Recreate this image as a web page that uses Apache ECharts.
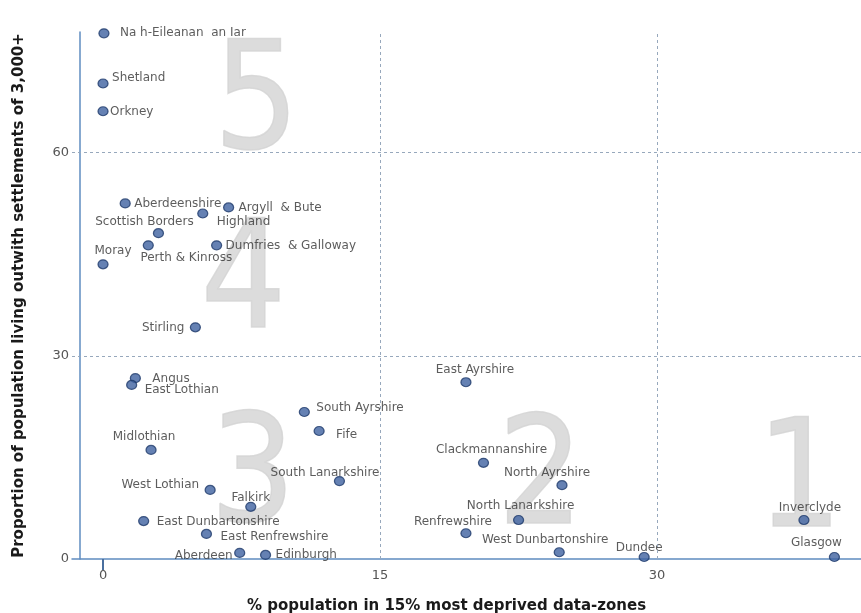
<!DOCTYPE html>
<html>
<head>
<meta charset="utf-8">
<script src="https://cdn.jsdelivr.net/npm/echarts@6/dist/echarts.min.js"></script>
<style>
html,body{margin:0;padding:0;background:#fff;}
#c{width:861px;height:613px;}
</style>
</head>
<body>
<div id="c"></div>
<script>
// ---- data ----
const councils = ["Na h-Eileanan  an Iar","Shetland","Orkney","Aberdeenshire","Highland","Argyll  & Bute","Scottish Borders","Perth & Kinross","Dumfries  & Galloway","Moray","Stirling","Angus","East Lothian","South Ayrshire","Fife","Midlothian","South Lanarkshire","West Lothian","Falkirk","East Dunbartonshire","East Renfrewshire","Aberdeen","Edinburgh","East Ayrshire","Clackmannanshire","North Ayrshire","North Lanarkshire","Renfrewshire","West Dunbartonshire","Dundee","Inverclyde","Glasgow"];
const deprived = [0.05,0,0,1.2,5.4,6.8,3.0,2.45,6.15,0,5.0,1.75,1.55,10.9,11.7,2.6,12.8,5.8,8.0,2.2,5.6,7.4,8.8,19.65,20.6,24.85,22.5,19.65,24.7,29.3,37.95,39.6];
const rural = [77.6,70.2,66.1,52.5,51.0,51.9,48.1,46.3,46.3,43.5,34.2,26.7,25.7,21.7,18.9,16.1,11.5,10.2,7.7,5.6,3.7,0.9,0.6,26.1,14.2,10.9,5.75,3.8,1.0,0.3,5.75,0.3];
const xTicks = [0,15,30];
const yTicks = [0,30,60];
const xGridLines = [15,30];
const yGridLines = [30,60];
const zoneNames = ["5","4","3","2","1"];
const zoneX = [8.3,7.6,8.1,23.7,37.7];
const zoneY = [66.4,40.0,11.3,11.0,10.6];

// ---- label styling (align, dx, dy) per council ----
const labelStyle = {
  "Na h-Eileanan  an Iar":["left",16,0],
  "Shetland":["left",9,-6],
  "Orkney":["left",7,1],
  "Aberdeenshire":["left",9,0],
  "Highland":["left",14,8],
  "Argyll  & Bute":["left",10,0],
  "Scottish Borders":["center",-14,-11],
  "Perth & Kinross":["center",38,13],
  "Dumfries  & Galloway":["left",9,1],
  "Moray":["center",10,-13],
  "Stirling":["right",-11,1],
  "Angus":["left",17,1],
  "East Lothian":["left",13,5],
  "South Ayrshire":["left",12,-4],
  "Fife":["left",17,4],
  "Midlothian":["center",-7,-13],
  "South Lanarkshire":["right",40,-8],
  "West Lothian":["right",-11,-5],
  "Falkirk":["center",0,-9],
  "East Dunbartonshire":["left",13,1],
  "East Renfrewshire":["left",14,3],
  "Aberdeen":["right",-7,3],
  "Edinburgh":["left",10,0],
  "East Ayrshire":["center",9,-12],
  "Clackmannanshire":["center",8,-13],
  "North Ayrshire":["center",-15,-12],
  "North Lanarkshire":["center",2,-14],
  "Renfrewshire":["center",-13,-11],
  "West Dunbartonshire":["center",-14,-12],
  "Dundee":["center",-5,-9],
  "Inverclyde":["center",6,-12],
  "Glasgow":["center",-18,-14]
};

const FONT = "DejaVu Sans";
const BIGFONT = "'Liberation Sans Narrow', 'DejaVu Sans Condensed', 'Liberation Sans', sans-serif";
const points = councils.map((n,i)=>{
  const s = labelStyle[n];
  return {
    name:n, value:[deprived[i], rural[i]],
    label:{show:true, formatter:n, position:'inside', align:s[0], verticalAlign:'middle', offset:[s[1], s[2]]}
  };
});

const chart = echarts.init(document.getElementById('c'), null, {renderer:'canvas'});
chart.setOption({
  animation:false,
  backgroundColor:'#ffffff',
  grid:{left:72, right:0, top:32, bottom:54, containLabel:false, outerBoundsMode:'none'},
  xAxis:{
    type:'value', min:-1.68, max:41.04,
    name:'% population in 15% most deprived data-zones',
    nameLocation:'middle', nameGap:40,
    nameTextStyle:{fontFamily:FONT, fontSize:15, fontWeight:'bold', color:'#1a1a1a', padding:[0,40,0,0]},
    axisLine:{show:true, onZero:false, lineStyle:{color:'#5f8cc0', width:1.5}},
    axisTick:{show:true, customValues:[0], length:11, lineStyle:{color:'#4a6f9f', width:2}},
    axisLabel:{show:true, customValues:xTicks, margin:10, fontFamily:FONT, fontSize:13, color:'#555'},
    splitLine:{show:false}
  },
  yAxis:{
    type:'value', min:0, max:77.8, offset:-8,
    name:'Proportion of population living outwith settlements of 3,000+',
    nameLocation:'middle', nameGap:53,
    nameTextStyle:{fontFamily:FONT, fontSize:15, fontWeight:'bold', color:'#1a1a1a'},
    axisLine:{show:true, onZero:false, lineStyle:{color:'#5f8cc0', width:1.5}},
    axisTick:{show:false},
    axisLabel:{show:true, customValues:yTicks, margin:11, fontFamily:FONT, fontSize:13, color:'#555'},
    splitLine:{show:false}
  },
  series:[
    {
      type:'scatter', name:'zones', silent:true, z:1,
      symbolSize:0,
      data:zoneNames.map((z,i)=>({value:[zoneX[i], zoneY[i]], label:{formatter:z}})),
      label:{show:true, position:'inside', fontFamily:BIGFONT, fontSize:150, color:'#d3d3d3', textBorderColor:'#d3d3d3', textBorderWidth:1.5},
      markLine:{
        silent:true, symbol:'none', animation:false,
        label:{show:false},
        lineStyle:{type:[3,3], color:'#97a8bc', width:1},
        data:[
          ...xGridLines.map(v=>({xAxis:v})),
          ...yGridLines.map(v=>({yAxis:v}))
        ]
      }
    },
    {
      type:'scatter', name:'councils', z:3, clip:false,
      symbol:'circle', symbolSize:[10,9],
      itemStyle:{color:'#3f62a0', borderColor:'#1e3a6a', borderWidth:1.2},
      label:{fontFamily:FONT, fontSize:12, color:'#333'},
      data:points
    }
  ]
});
</script>
</body>
</html>
